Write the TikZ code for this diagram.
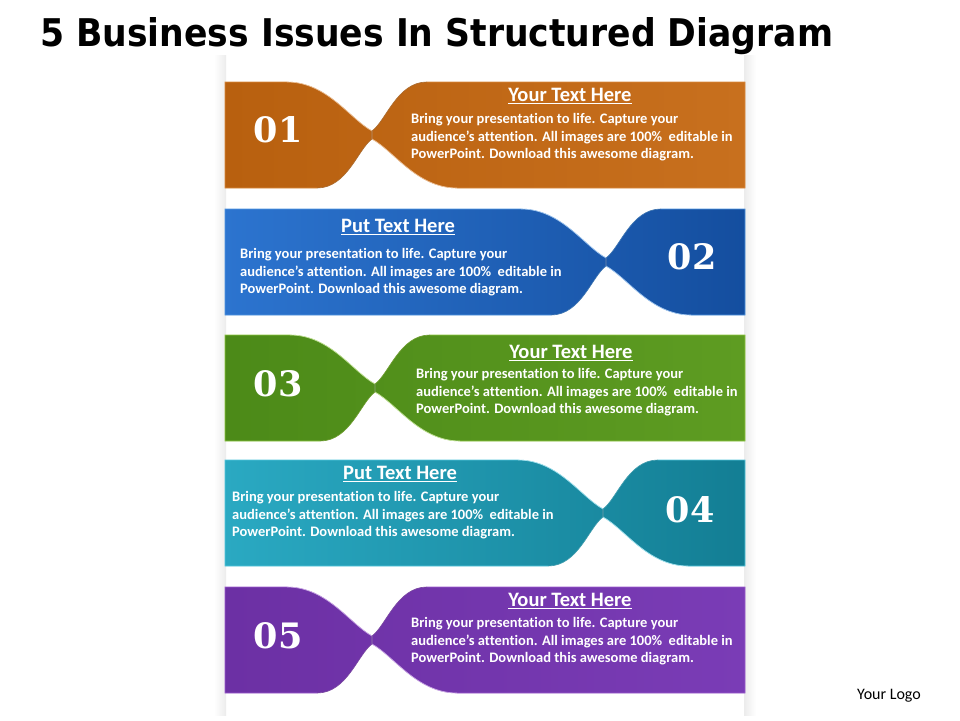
\documentclass[tikz,border=0pt]{standalone}
\usepackage{fontspec}
\usepackage{graphicx}
\setmainfont{Carlito}[Ligatures=NoCommon]
\newfontfamily\headfont{DejaVu Sans}
\newfontfamily\numfont{DejaVu Serif}

\definecolor{orangeA}{HTML}{B8600F}
\definecolor{orangeB}{HTML}{D9883C}
\definecolor{orangeC}{HTML}{C8701E}
\definecolor{blueA}{HTML}{2C74CF}
\definecolor{blueB}{HTML}{4E94E0}
\definecolor{blueC}{HTML}{144E9F}
\definecolor{greenA}{HTML}{4C8A18}
\definecolor{greenB}{HTML}{8CC63E}
\definecolor{greenC}{HTML}{5E9C22}
\definecolor{tealA}{HTML}{2AA9C2}
\definecolor{tealB}{HTML}{52C6DC}
\definecolor{tealC}{HTML}{137E94}
\definecolor{purpleA}{HTML}{6C30A4}
\definecolor{purpleB}{HTML}{9A5ACC}
\definecolor{purpleC}{HTML}{7A3CB6}

% twisted band: top y, pinch x, colour prefix
\newcommand{\band}[3]{%
  \shadedraw[left color=#3A, middle color=#3B, right color=#3C, draw=#3B, line width=0.6pt]
    (225,#1) -- ({#2-85},#1)
    .. controls ({#2-45},#1) and ({#2-22},{#1+37}) .. (#2,{#1+49})
    .. controls ({#2+14},{#1+39}) and ({#2+25},#1) .. ({#2+55},#1)
    -- (745,#1) -- (745,{#1+106}) -- ({#2+85},{#1+106})
    .. controls ({#2+45},{#1+106}) and ({#2+22},{#1+69}) .. (#2,{#1+57})
    .. controls ({#2-14},{#1+67}) and ({#2-25},{#1+106}) .. ({#2-55},{#1+106})
    -- (225,{#1+106}) -- cycle;
  % twist strands
  \draw[white, opacity=0.45, line width=0.7pt]
    ({#2-85},#1) .. controls ({#2-45},#1) and ({#2-22},{#1+37}) .. (#2,{#1+49})
    -- (#2,{#1+57}) .. controls ({#2+22},{#1+69}) and ({#2+45},{#1+106}) .. ({#2+85},{#1+106});
  \draw[black, opacity=0.2, line width=0.7pt]
    ({#2-55},{#1+106}) .. controls ({#2-25},{#1+106}) and ({#2-14},{#1+67}) .. (#2,{#1+57})
    -- (#2,{#1+49}) .. controls ({#2+14},{#1+39}) and ({#2+25},#1) .. ({#2+55},#1);
}

\begin{document}
\begin{tikzpicture}[x=1pt, y=-1pt,
    title/.style ={anchor=base west, inner sep=0pt, font=\headfont\bfseries},
    number/.style ={white, font=\numfont\bfseries\fontsize{35}{35}\selectfont},
    heading/.style ={white, font=\bfseries\fontsize{20.5}{20.5}\selectfont},
    body/.style ={white, anchor=north west, inner sep=0pt, align=left,
                  font=\bfseries\fontsize{14.5}{17.8}\selectfont},
    logo/.style ={font=\fontsize{16}{16}\selectfont}]
   \useasboundingbox[fill=white] (0,0) rectangle (960,720);

   % side glow
   \shade[left color=white, right color=gray!15] (214,55) rectangle (226,715);
   \shade[left color=gray!15, right color=white] (744,55) rectangle (756,715);

   \node[title] (T) at (40,46) {\resizebox{793pt}{29pt}{5 Business Issues In Structured Diagram}};

   \band{82}{372}{orange}
   \band{209}{606}{blue}
   \band{335}{375}{green}
   \band{460}{603}{teal}
   \band{587}{372}{purple}

   \node[number] (N1) at (278,130) {01};
   \node[number] (N2) at (692,257) {02};
   \node[number] (N3) at (278,384) {03};
   \node[number] (N4) at (690,510) {04};
   \node[number] (N5) at (278,636) {05};

   \node[heading] (H1) at (570,96)  {\underline{Your Text Here}};
   \node[heading] (H2) at (398,227) {\underline{Put Text Here}};
   \node[heading] (H3) at (571,353) {\underline{Your Text Here}};
   \node[heading] (H4) at (400,474) {\underline{Put Text Here}};
   \node[heading] (H5) at (570,601) {\underline{Your Text Here}};

   \node[body] (B1) at (411,113) {Bring your presentation to life. Capture your\\audience’s attention. All images are 100\%~ editable in\\PowerPoint. Download this awesome diagram.};
   \node[body] (B2) at (240,248) {Bring your presentation to life. Capture your\\audience’s attention. All images are 100\%~ editable in\\PowerPoint. Download this awesome diagram.};
   \node[body] (B3) at (416,368) {Bring your presentation to life. Capture your\\audience’s attention. All images are 100\%~ editable in\\PowerPoint. Download this awesome diagram.};
   \node[body] (B4) at (232,491) {Bring your presentation to life. Capture your\\audience’s attention. All images are 100\%~ editable in\\PowerPoint. Download this awesome diagram.};
   \node[body] (B5) at (411,617) {Bring your presentation to life. Capture your\\audience’s attention. All images are 100\%~ editable in\\PowerPoint. Download this awesome diagram.};

   \node[logo] (L) at (889,696) {Your Logo};
 \end{tikzpicture}
\end{document}
